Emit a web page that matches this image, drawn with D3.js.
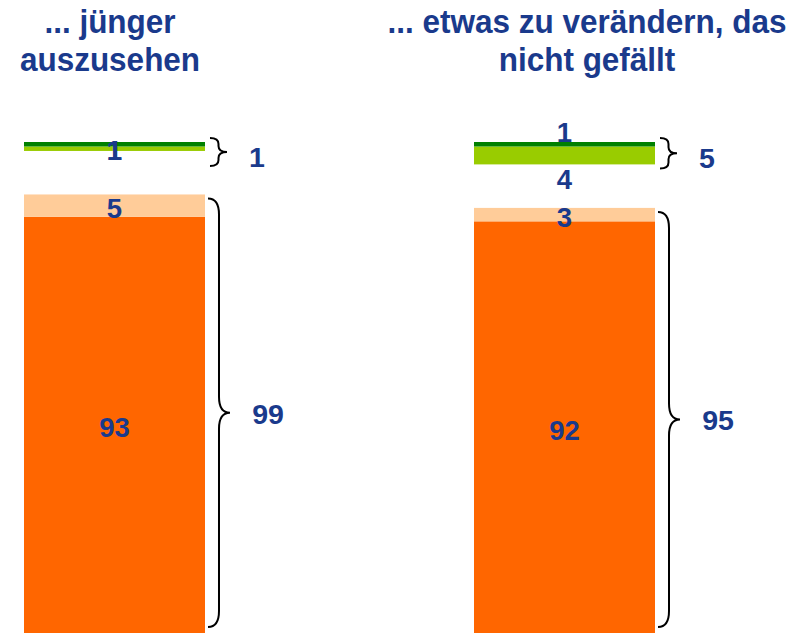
<!DOCTYPE html>
<html>
<head>
<meta charset="utf-8">
<script src="https://cdn.jsdelivr.net/npm/d3@7"></script>
<style>
  html, body { margin: 0; padding: 0; background: #ffffff; }
  svg { display: block; }
  text { font-family: "Liberation Sans", Arial, sans-serif; font-weight: bold; fill: #1a3a8c; }
</style>
</head>
<body>
<svg id="chart" width="802" height="633"></svg>
<script>
// Categories and their two-line headings
const categories = ["jünger", "verändern"];
const titles = [
  ["... jünger", "auszusehen"],
  ["... etwas zu verändern, das", "nicht gefällt"]
];

// Lower stack: orange (bottom) and light peach on top
const orangeValues = [93, 92];
const peachValues = [5, 3];
// Upper stack: light green (bottom) and dark green on top
const lightGreenValues = [1, 4];
const darkGreenValues = [1, 1];
// Totals shown beside the braces
const lowerTotals = [99, 95];
const upperTotals = [1, 5];

const colors = {
  orange: "#ff6600",
  peach: "#ffcc99",
  lightGreen: "#99cc00",
  darkGreen: "#008000",
  brace: "#000000"
};

const svg = d3.select("#chart");
const W = 802, H = 633;
const baseY = 633.5;        // bars run to the bottom edge
const unitPx = 4.48;        // pixels per percentage point
const stackGap = 43.5;      // white gap between lower and upper stack

const x = d3.scaleBand()
  .domain(categories)
  .range([24, 655])
  .paddingInner(0.5978)
  .paddingOuter(0);

const y = d3.scaleLinear()
  .domain([0, 100])
  .range([baseY, baseY - 100 * unitPx]);

const hOf = v => y(0) - y(v);

// Title lines, slightly stretched vertically
const titleShift = [-4.5, 22.5];
const titleBaselines = [33, 71];
categories.forEach((c, i) => {
  const cx = x(c) + x.bandwidth() / 2 + titleShift[i];
  titles[i].forEach((line, k) => {
    svg.append("text")
      .attr("transform", `translate(${cx},${titleBaselines[k]}) scale(1,1.08)`)
      .attr("text-anchor", "middle")
      .style("font-size", "31.5px")
      .text(line);
  });
});

// Curly brace path between y0 and y1 pointing right from x0
function bracePath(x0, y0, y1, depth, r) {
  const xm = x0 + depth * 0.5;
  const xt = x0 + depth;
  const ym = (y0 + y1) / 2;
  return `M${x0},${y0} Q${xm},${y0} ${xm},${y0 + r} L${xm},${ym - r} Q${xm},${ym} ${xt},${ym}` +
         ` Q${xm},${ym} ${xm},${ym + r} L${xm},${y1 - r} Q${xm},${y1} ${x0},${y1}`;
}

const segFont = "27.5px";

categories.forEach((c, i) => {
  const bx = x(c);
  const bw = x.bandwidth();
  const cx = bx + bw / 2;
  const right = bx + bw;

  // Lower stack
  const orangeTop = y(orangeValues[i]);
  const peachTop = y(orangeValues[i] + peachValues[i]);
  svg.append("rect")
    .attr("x", bx).attr("y", orangeTop)
    .attr("width", bw).attr("height", hOf(orangeValues[i]))
    .attr("fill", colors.orange);
  svg.append("rect")
    .attr("x", bx).attr("y", peachTop)
    .attr("width", bw).attr("height", hOf(peachValues[i]))
    .attr("fill", colors.peach);

  svg.append("text")
    .attr("x", cx).attr("y", (orangeTop + Math.min(baseY, H)) / 2 + 3)
    .attr("text-anchor", "middle").attr("dominant-baseline", "central")
    .style("font-size", segFont)
    .text(orangeValues[i]);
  svg.append("text")
    .attr("x", cx).attr("y", (peachTop + orangeTop) / 2 + 3)
    .attr("text-anchor", "middle").attr("dominant-baseline", "central")
    .style("font-size", segFont)
    .text(peachValues[i]);

  // Upper stack, offset above the lower one
  const upperBase = peachTop - stackGap;
  const lgTop = upperBase - hOf(lightGreenValues[i]);
  const dgTop = lgTop - hOf(darkGreenValues[i]);
  svg.append("rect")
    .attr("x", bx).attr("y", lgTop)
    .attr("width", bw).attr("height", hOf(lightGreenValues[i]))
    .attr("fill", colors.lightGreen);
  svg.append("rect")
    .attr("x", bx).attr("y", dgTop)
    .attr("width", bw).attr("height", hOf(darkGreenValues[i]))
    .attr("fill", colors.darkGreen);

  const thin = hOf(lightGreenValues[i]) < 10;
  if (thin) {
    // both thin segments labelled at the middle of the stack
    const mid = (dgTop + upperBase) / 2 + 4;
    [darkGreenValues[i], lightGreenValues[i]].forEach(v => {
      svg.append("text")
        .attr("x", cx).attr("y", mid)
        .attr("text-anchor", "middle").attr("dominant-baseline", "central")
        .style("font-size", segFont)
        .text(v);
    });
  } else {
    svg.append("text")
      .attr("x", cx).attr("y", dgTop - 10)
      .attr("text-anchor", "middle").attr("dominant-baseline", "central")
      .style("font-size", segFont)
      .text(darkGreenValues[i]);
    svg.append("text")
      .attr("x", cx).attr("y", upperBase + 15)
      .attr("text-anchor", "middle").attr("dominant-baseline", "central")
      .style("font-size", segFont)
      .text(lightGreenValues[i]);
  }

  // Brace for the lower stack
  const lb0 = peachTop + 4, lb1 = H - 6;
  svg.append("path")
    .attr("d", bracePath(right + 3, lb0, lb1, 22, 16))
    .attr("fill", "none").attr("stroke", colors.brace).attr("stroke-width", 2);
  svg.append("text")
    .attr("x", right + 63).attr("y", (lb0 + lb1) / 2 + 1)
    .attr("text-anchor", "middle").attr("dominant-baseline", "central")
    .style("font-size", "28.5px")
    .text(lowerTotals[i]);

  // Brace for the upper stack
  const ub0 = dgTop - 4;
  const ub1 = Math.max(upperBase + 4, ub0 + 28);
  svg.append("path")
    .attr("d", bracePath(right + 5, ub0, ub1, 17, 6))
    .attr("fill", "none").attr("stroke", colors.brace).attr("stroke-width", 2);
  svg.append("text")
    .attr("x", right + 52).attr("y", (ub0 + ub1) / 2 + 5)
    .attr("text-anchor", "middle").attr("dominant-baseline", "central")
    .style("font-size", "28.5px")
    .text(upperTotals[i]);
});
</script>
</body>
</html>
